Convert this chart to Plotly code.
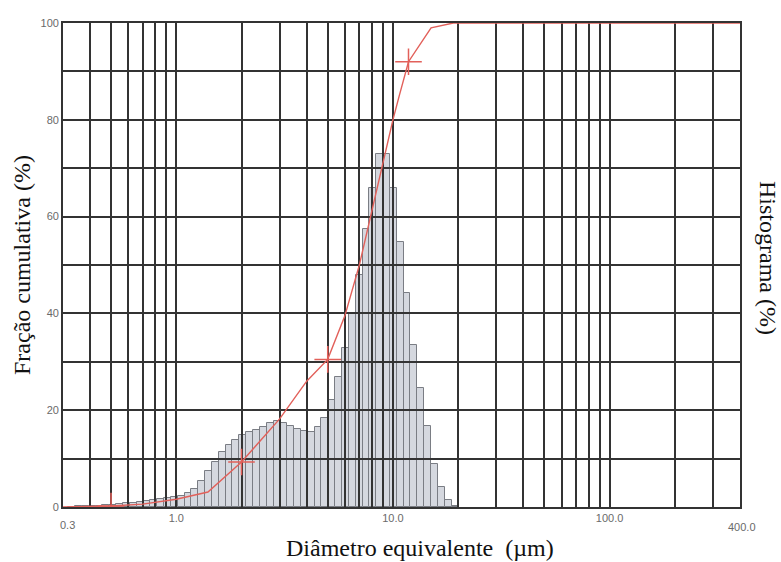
import math
import plotly.graph_objects as go

# ---------------- data ----------------
# histogram: log-spaced bins, first lower edge and bin width in log10 units
bin_first_edge_um = 0.317
bin_log_width = 0.0316
hist_values = [0.1, 0.2, 0.2, 0.3, 0.3, 0.4, 0.5, 0.6, 0.8, 0.9,
               1.0, 1.2, 1.4, 1.6, 1.8, 2.0, 2.3, 2.8, 3.7, 5.3,
               7.4, 9.4, 11.3, 12.9, 13.9, 14.8, 15.4, 16.0, 16.6, 17.4,
               17.7, 17.4, 16.8, 16.1, 15.7, 15.5, 16.5, 18.4, 22.1, 26.8,
               32.8, 40.0, 48.0, 57.4, 66.0, 73.0, 73.0, 66.0, 54.7, 44.2,
               33.5, 24.6, 16.7, 8.9, 4.1, 1.4, 0.3]

# cumulative curve
cum_diam = [0.3, 0.5, 0.7, 1.0, 1.4, 2.0, 3.0, 4.0, 5.0, 6.0, 7.0, 10.0, 10.7, 11.8, 15.0, 19.0, 400.0]
cum_frac = [0.0, 0.2, 0.6, 1.6, 3.1, 9.3, 18.2, 26.0, 30.5, 39.5, 50.0, 80.0, 85.0, 92.0, 99.0, 100.0, 100.0]

# cross markers on the cumulative curve
mark_diam = [0.5, 2.0, 5.0, 11.8]
mark_frac = [0.2, 9.3, 30.5, 92.0]

# axes
x_min, x_max = 0.3, 400.0
grid_x = [0.4, 0.5, 0.6, 0.7, 0.8, 0.9, 1, 2, 3, 4, 5, 6, 7, 8, 9,
          10, 20, 30, 40, 50, 60, 70, 80, 90, 100, 200, 300]
x_labels = {1: "1.0", 10: "10.0", 100: "100.0"}
y_grid = [0, 10, 20, 30, 40, 50, 60, 70, 80, 90, 100]
y_labels = {0: "0", 20: "20", 40: "40", 60: "60", 80: "80", 100: "100"}

# ---------------- figure ----------------
lx0, lx1 = math.log10(x_min), math.log10(x_max)
centers = [math.log10(bin_first_edge_um) + (i + 0.5) * bin_log_width for i in range(len(hist_values))]

GRID = "#333333"
RED = "#e2605a"

fig = go.Figure()
fig.add_trace(go.Bar(
    x=centers, y=hist_values, width=[bin_log_width] * len(hist_values),
    marker=dict(color="#d5d8df", line=dict(color="#7a7d84", width=1)),
    xaxis="x", yaxis="y", showlegend=False, hoverinfo="skip"))

fig.add_trace(go.Scatter(
    x=cum_diam, y=cum_frac, mode="lines",
    line=dict(color=RED, width=1.4),
    xaxis="x2", yaxis="y2", showlegend=False))
fig.add_trace(go.Scatter(
    x=mark_diam, y=mark_frac, mode="markers",
    marker=dict(symbol="cross-thin", size=19, line=dict(color=RED, width=1.5)),
    xaxis="x2", yaxis="y2", showlegend=False))

tickfont = dict(family="Liberation Sans, Arial", size=11, color="#6a6a6a")
fig.update_layout(
    width=781, height=562,
    margin=dict(l=63, r=41, t=23, b=55),
    paper_bgcolor="white", plot_bgcolor="rgba(0,0,0,0)",
    bargap=0,
    xaxis=dict(range=[lx0, lx1], visible=False, anchor="y", domain=[0, 1]),
    yaxis=dict(range=[0, 100], visible=False, anchor="x", domain=[0, 1]),
    xaxis2=dict(type="log", range=[lx0, lx1], anchor="y2", domain=[0, 1],
                tickvals=grid_x, ticktext=[x_labels.get(v, "") for v in grid_x],
                showgrid=True, gridcolor=GRID, gridwidth=1.7,
                showline=True, mirror=True, linecolor=GRID, linewidth=1.8,
                ticks="", tickfont=tickfont, zeroline=False),
    yaxis2=dict(range=[0, 100], anchor="x2", domain=[0, 1],
                tickvals=y_grid, ticktext=[y_labels.get(v, "") for v in y_grid],
                showgrid=True, gridcolor=GRID, gridwidth=1.7,
                showline=True, mirror=True, linecolor=GRID, linewidth=1.8,
                ticks="", tickfont=tickfont, zeroline=False),
)

serif = dict(family="Liberation Serif, Times New Roman", size=24, color="#111111")
fig.add_annotation(text="0.3", x=lx0, xref="x", y=0, yref="paper", yshift=-26,
                   showarrow=False, font=tickfont, xanchor="left", xshift=-5)
fig.add_annotation(text="400.0", x=lx1, xref="x", y=0, yref="paper", yshift=-28,
                   showarrow=False, font=tickfont, xanchor="center", xshift=2)
fig.add_annotation(text="Diâmetro equivalente \u00a0(µm)", x=0.527, xref="paper",
                   y=0, yref="paper", yanchor="middle", yshift=-41,
                   xanchor="center", showarrow=False, font=serif)
fig.add_annotation(text="Fração cumulativa (%)", x=0, xref="paper", xshift=-41,
                   y=0.5, yref="paper", yshift=0, textangle=-90,
                   xanchor="center", yanchor="middle", showarrow=False, font=serif)
fig.add_annotation(text="Histograma (%)", x=1, xref="paper", xshift=28,
                   y=0.5, yref="paper", yshift=7, textangle=90,
                   xanchor="center", yanchor="middle", showarrow=False, font=serif)

fig.write_html("out.html")
